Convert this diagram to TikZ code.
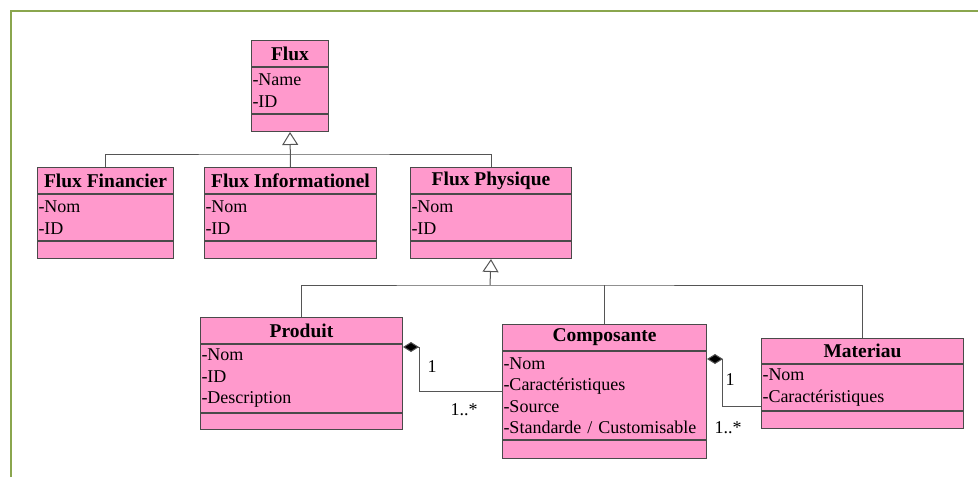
\documentclass[tikz,border=0pt]{standalone}
\usepackage{fontspec}
\setmainfont{Liberation Serif}
\usepackage{xcolor}
\usepackage{tikz}
\usetikzlibrary{positioning, arrows.meta, calc}
\definecolor{classpink}{HTML}{FF99CC}
\definecolor{framegreen}{HTML}{8AA64E}
\definecolor{edgegray}{HTML}{4A4A4A}
\definecolor{linkgray}{HTML}{555555}

\tikzset{
  classhead/.style={draw=edgegray, fill=classpink, line width=1pt, anchor=north west,
    minimum height=26pt, inner sep=0pt, font=\fontsize{19.5}{22}\selectfont\bfseries},
  classattr/.style={draw=edgegray, fill=classpink, line width=1pt, inner xsep=1pt,
    inner ysep=0pt, align=left, font=\fontsize{18}{21.5}\selectfont},
  classmeth/.style={draw=edgegray, fill=classpink, line width=1pt, inner sep=0pt},
  inherit/.style={draw=linkgray, line width=1pt},
  genarrow/.style={-{Triangle[open, length=13pt, width=16pt, fill=white]}},
  compo/.style={draw=linkgray, line width=1pt,
    {Diamond[length=16pt, width=10pt, fill=black]}-},
  mult/.style={inner sep=0pt, font=\fontsize{18}{21.5}\selectfont}
}

\begin{document}
\begin{tikzpicture}[x=1pt, y=-1pt]
  \useasboundingbox (0,0) rectangle (978,477);
  \draw[framegreen, line width=2.5pt] (11,477) -- (11,11) -- (978,11);

  % Flux
  \node[classhead, minimum width=77pt] (flux) at (251,40) {Flux};
  \node[classattr, text width=75pt, minimum height=46pt, below=0pt of flux] (fluxattr) {-Name\\-ID};
  \node[classmeth, minimum width=77pt, minimum height=17pt, below=0pt of fluxattr] (fluxmeth) {};

  % Flux Financier
  \node[classhead, minimum width=136pt] (fin) at (37,167) {Flux Financier};
  \node[classattr, text width=134pt, minimum height=46pt, below=0pt of fin] (finattr) {-Nom\\-ID};
  \node[classmeth, minimum width=136pt, minimum height=17pt, below=0pt of finattr] (finmeth) {};

  % Flux Informationel
  \node[classhead, minimum width=172pt] (info) at (204,167) {Flux Informationel};
  \node[classattr, text width=170pt, minimum height=46pt, below=0pt of info] (infoattr) {-Nom\\-ID};
  \node[classmeth, minimum width=172pt, minimum height=17pt, below=0pt of infoattr] (infometh) {};

  % Flux Physique
  \node[classhead, minimum width=161pt] (phy) at (410,167) {Flux Physique};
  \node[classattr, text width=159pt, minimum height=46pt, below=0pt of phy] (phyattr) {-Nom\\-ID};
  \node[classmeth, minimum width=161pt, minimum height=17pt, below=0pt of phyattr] (phymeth) {};

  % Produit
  \node[classhead, minimum width=202pt] (prod) at (200,317) {Produit};
  \node[classattr, text width=200pt, minimum height=68pt, below=0pt of prod] (prodattr) {-Nom\\-ID\\-Description};
  \node[classmeth, minimum width=202pt, minimum height=16pt, below=0pt of prodattr] (prodmeth) {};

  % Composante
  \node[classhead, minimum width=204pt] (comp) at (502,324) {Composante};
  \node[classattr, text width=202pt, minimum height=88pt, below=0pt of comp] (compattr)
    {-Nom\\-Caractéristiques\\-Source\\-Standarde / Customisable};
  \node[classmeth, minimum width=204pt, minimum height=18pt, below=0pt of compattr] (compmeth) {};

  % Materiau
  \node[classhead, minimum width=202pt, minimum height=25pt] (mat) at (761,338) {Materiau};
  \node[classattr, text width=200pt, minimum height=46pt, below=0pt of mat] (matattr) {-Nom\\-Caractéristiques};
  \node[classmeth, minimum width=202pt, minimum height=17pt, below=0pt of matattr] (matmeth) {};

  % heritage
  \coordinate (j1) at (290,154);
  \coordinate (j2) at (490,285);
  \draw[inherit, genarrow] (info.north) -- (fluxmeth.south);
  \draw[inherit] (fin.north) |- (j1) -| (phy.north);
  \draw[inherit, genarrow] (j2) -- (phymeth.south);
  \draw[inherit] (prod.north) |- (j2) -| (mat.north);
  \draw[inherit] (comp.north) -- (comp.north |- j2);

  % composition
  \draw[compo] ($(prodattr.north east)+(0,3)$) -- ++(16,0) |- ($(compattr.north west)+(0,40)$);
  \draw[compo] ($(compattr.north east)+(0,8)$) -- ++(15,0) |- ($(matattr.north west)+(0,42)$);
  \node[mult] (m1) at (432,367) {1};
  \node[mult] (m2) at (464,410) {1..*};
  \node[mult] (m3) at (730,380) {1};
  \node[mult] (m4) at (728,428) {1..*};
\end{tikzpicture}
\end{document}
